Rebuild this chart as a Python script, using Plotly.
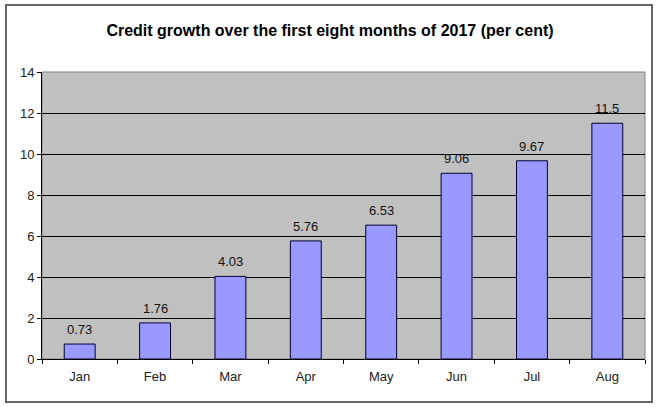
import plotly.graph_objects as go

# Credit growth data (per cent)
months = ["Jan", "Feb", "Mar", "Apr", "May", "Jun", "Jul", "Aug"]
growth = [0.73, 1.76, 4.03, 5.76, 6.53, 9.06, 9.67, 11.5]
y_ticks = [0, 2, 4, 6, 8, 10, 12, 14]

W, H = 660, 407
L, R, T, B = 42, 15, 72, 48
pw, ph = W - L - R, H - T - B

def px(x):
    return (x - L) / pw

def py(y):
    return (H - B - y) / ph

fig = go.Figure(go.Bar(
    x=months, y=growth,
    marker=dict(color="#9999FF", line=dict(color="#000033", width=1)),
))

# value labels a bit above each bar, like the Excel original
for m, v in zip(months, growth):
    fig.add_annotation(x=m, y=v, text=f"{v:g}", showarrow=False, yanchor="bottom", yshift=5,
                       font=dict(family="Arial", size=13, color="#111111"))

fig.update_layout(
    width=W, height=H,
    margin=dict(l=L, r=R, t=T, b=B),
    paper_bgcolor="white", plot_bgcolor="#C0C0C0",
    bargap=0.59,
    showlegend=False,
    title=dict(text="<b>Credit growth over the first eight months of 2017 (per cent)</b>",
               x=0.5, xanchor="center", y=1 - 30 / H, yanchor="middle",
               font=dict(family="Arial", size=16, color="black")),
    font=dict(family="Arial", size=13, color="#222222"),
)

fig.update_yaxes(range=[0, 14], tickvals=y_ticks, showgrid=True, gridcolor="black", gridwidth=1,
                 showline=True, linecolor="black", ticks="outside", ticklen=4, tickcolor="black",
                 zeroline=False, fixedrange=True)
fig.update_xaxes(tickson="boundaries", ticks="outside", ticklen=4, tickcolor="black",
                 ticklabelstandoff=5,
                 showline=True, linecolor="black", showgrid=False, fixedrange=True)

# plot area border and chart frame
fig.add_shape(type="rect", xref="paper", yref="paper", x0=0, x1=1, y0=0, y1=1,
              line=dict(color="#808080", width=1), layer="below")
fig.add_shape(type="rect", xref="paper", yref="paper", x0=px(6), x1=px(652), y0=py(402), y1=py(5),
              line=dict(color="#666666", width=2))

# drop the default page margin so the chart sits at the window origin
fig.write_html("out.html", post_script="document.body.style.margin='0';",
               config={"displayModeBar": False})
